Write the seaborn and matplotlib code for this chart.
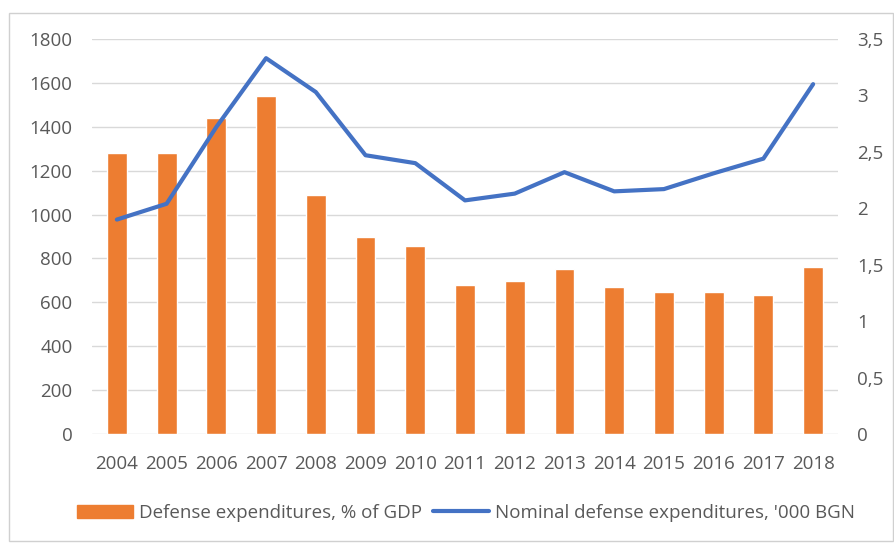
import numpy as np
import pandas as pd
import matplotlib
matplotlib.use("Agg")
import matplotlib.pyplot as plt
import seaborn as sns
from matplotlib.patches import Patch, Rectangle
from matplotlib.lines import Line2D
from matplotlib.ticker import FuncFormatter, MultipleLocator

years = [str(y) for y in range(2004, 2019)]
bar_values = [1280, 1280, 1440, 1540, 1090, 900, 855, 680, 695, 750, 670, 645, 645, 635, 760]
line_values = [1.90, 2.04, 2.72, 3.33, 3.03, 2.47, 2.40, 2.07, 2.13, 2.32, 2.15, 2.17, 2.31, 2.44, 3.10]
bar_label = "Defense expenditures, % of GDP"
line_label = "Nominal defense expenditures, '000 BGN"

ORANGE = "#ED7D31"
BLUE = "#4472C4"
TXT = "#595959"
GRID = "#D9D9D9"
FS = 13.5

sns.set_theme(style="white")
plt.rcParams['font.family'] = ['Open Sans', 'DejaVu Sans']

fig = plt.figure(figsize=(8.95, 5.43), dpi=100)
ax = fig.add_axes([92/895, 1-434/543, (838-92)/895, (434-39)/543])

df = pd.DataFrame({"year": years, "bar": bar_values, "line": line_values})
sns.barplot(data=df, x="year", y="bar", color=ORANGE, saturation=1, width=0.4, ax=ax)
ax.set_ylim(0, 1800)
ax.yaxis.set_major_locator(MultipleLocator(200))
ax.set_xlim(-0.5, len(years) - 0.5)
ax.grid(axis="y", color=GRID, linewidth=1)
ax.set_axisbelow(True)
ax.set_xlabel("")
ax.set_ylabel("")
for s in ax.spines.values():
    s.set_visible(False)
ax.tick_params(axis="both", length=0, colors=TXT, labelsize=FS)
ax.tick_params(axis="y", pad=14)
ax.tick_params(axis="x", pad=15)

ax2 = ax.twinx()
sns.lineplot(x=np.arange(len(years)), y=line_values, color=BLUE, linewidth=3, ax=ax2)
ax2.set_ylim(0, 3.5)
ax2.yaxis.set_major_locator(MultipleLocator(0.5))
ax2.yaxis.set_major_formatter(FuncFormatter(lambda v, p: ("%g" % v).replace(".", ",")))
for s in ax2.spines.values():
    s.set_visible(False)
ax2.tick_params(axis="y", length=0, colors=TXT, labelsize=FS, pad=14)
ax2.grid(False)

handles = [Patch(facecolor=ORANGE, edgecolor=ORANGE), Line2D([0], [0], color=BLUE, linewidth=3)]
fig.legend(handles, [bar_label, line_label], loc="center", bbox_to_anchor=(466/895, 1-513/543),
           ncol=2, frameon=False, fontsize=FS, labelcolor=TXT, handlelength=3.0,
           handletextpad=0.3, columnspacing=0.6)

fig.patches.append(Rectangle((9/895, 1-541/543), (893-9)/895, (541-13)/543, transform=fig.transFigure,
                             fill=False, edgecolor="#D0D0D0", linewidth=1))

fig.savefig("out.png", dpi=100, facecolor="white")
